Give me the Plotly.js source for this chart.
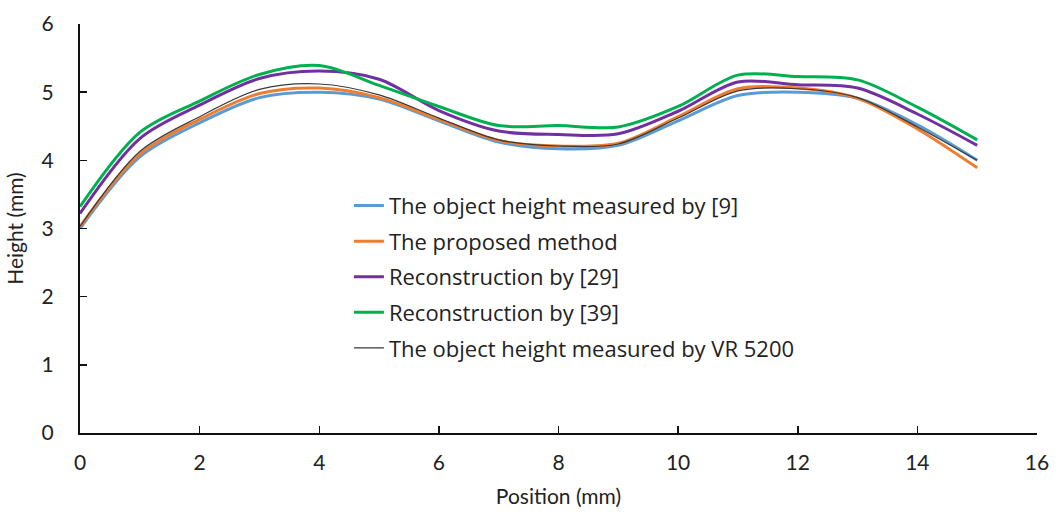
<!DOCTYPE html>
<html>
<head>
<meta charset="utf-8">
<script src="https://cdn.plot.ly/plotly-3.0.1.min.js"></script>
<style>
  html, body { margin: 0; padding: 0; background: #fff; }
  #chart { width: 1059px; height: 521px; }
</style>
</head>
<body>
<div id="chart"></div>
<script>
// Surface height profile along the scan line (mm)
const position = [0, 1, 2, 3, 4, 5, 6, 7, 8, 9, 10, 11, 12, 13, 14, 15];

const heightRef9   = [3.00, 4.05, 4.55, 4.92, 5.00, 4.90, 4.58, 4.27, 4.17, 4.22, 4.58, 4.95, 5.00, 4.91, 4.52, 4.00];
const proposed     = [3.03, 4.09, 4.60, 4.98, 5.06, 4.92, 4.60, 4.29, 4.21, 4.25, 4.64, 5.05, 5.06, 4.91, 4.46, 3.89];
const recon29      = [3.22, 4.32, 4.81, 5.20, 5.31, 5.19, 4.73, 4.43, 4.38, 4.39, 4.72, 5.15, 5.11, 5.06, 4.68, 4.22];
const recon39      = [3.32, 4.41, 4.87, 5.26, 5.39, 5.10, 4.79, 4.51, 4.51, 4.49, 4.79, 5.25, 5.23, 5.18, 4.78, 4.30];
const vr5200       = [3.03, 4.13, 4.64, 5.04, 5.12, 4.96, 4.62, 4.30, 4.21, 4.24, 4.62, 5.02, 5.05, 4.92, 4.49, 4.00];

const seriesNames = [
  'The object height measured by [9]',
  'The proposed method',
  'Reconstruction by [29]',
  'Reconstruction by [39]',
  'The object height measured by VR 5200'
];
const seriesValues = [heightRef9, proposed, recon29, recon39, vr5200];
const seriesColors = ['#5B9BD5', '#ED7D31', '#7030A0', '#00B050', '#3a3a3a'];
const seriesWidths = [3, 3, 3, 3, 1.2];

const xTicks = [0, 2, 4, 6, 8, 10, 12, 14, 16];
const yTicks = [0, 1, 2, 3, 4, 5, 6];

const FONT = 'Lato, "Open Sans", sans-serif';
const LEGEND_FONT = '"Open Sans", Lato, sans-serif';

const traces = seriesValues.map((vals, i) => ({
  type: 'scatter',
  mode: 'lines',
  x: position,
  y: vals,
  name: seriesNames[i],
  legendgroup: 'g' + i,
  line: { color: seriesColors[i], width: seriesWidths[i], shape: 'spline', smoothing: 0.9 }
}));

const axisCommon = {
  showgrid: false,
  zeroline: false,
  showline: true,
  linecolor: '#111',
  linewidth: 2,
  ticks: 'inside',
  ticklen: 7,
  tickwidth: 1.5,
  tickcolor: '#111',
  tickfont: { family: FONT, size: 21, color: '#222' },
  fixedrange: true
};

const layout = {
  width: 1059,
  height: 521,
  margin: { l: 80, r: 22, t: 24, b: 88 },
  paper_bgcolor: '#fff',
  plot_bgcolor: '#fff',
  showlegend: true,
  legend: {
    x: 0.281, y: 0.607, xanchor: 'left', yanchor: 'top',
    bgcolor: 'rgba(0,0,0,0)',
    font: { family: LEGEND_FONT, size: 22, color: '#222' },
    tracegroupgap: 4,
    itemwidth: 30
  },
  xaxis: Object.assign({}, axisCommon, {
    range: [0, 16],
    tickvals: xTicks,
    ticktext: xTicks.map(String),
    ticklabelstandoff: 10,
    title: { text: 'Position (mm)', font: { family: FONT, size: 21, color: '#222' }, standoff: 16 }
  }),
  yaxis: Object.assign({}, axisCommon, {
    range: [0, 6],
    tickvals: yTicks,
    ticktext: yTicks.map(String),
    ticklabelstandoff: 20,
    title: { text: 'Height (mm)', font: { family: FONT, size: 21, color: '#222' }, standoff: 12 }
  })
};

Plotly.newPlot('chart', traces, layout, { displayModeBar: false, staticPlot: true });
</script>
</body>
</html>
